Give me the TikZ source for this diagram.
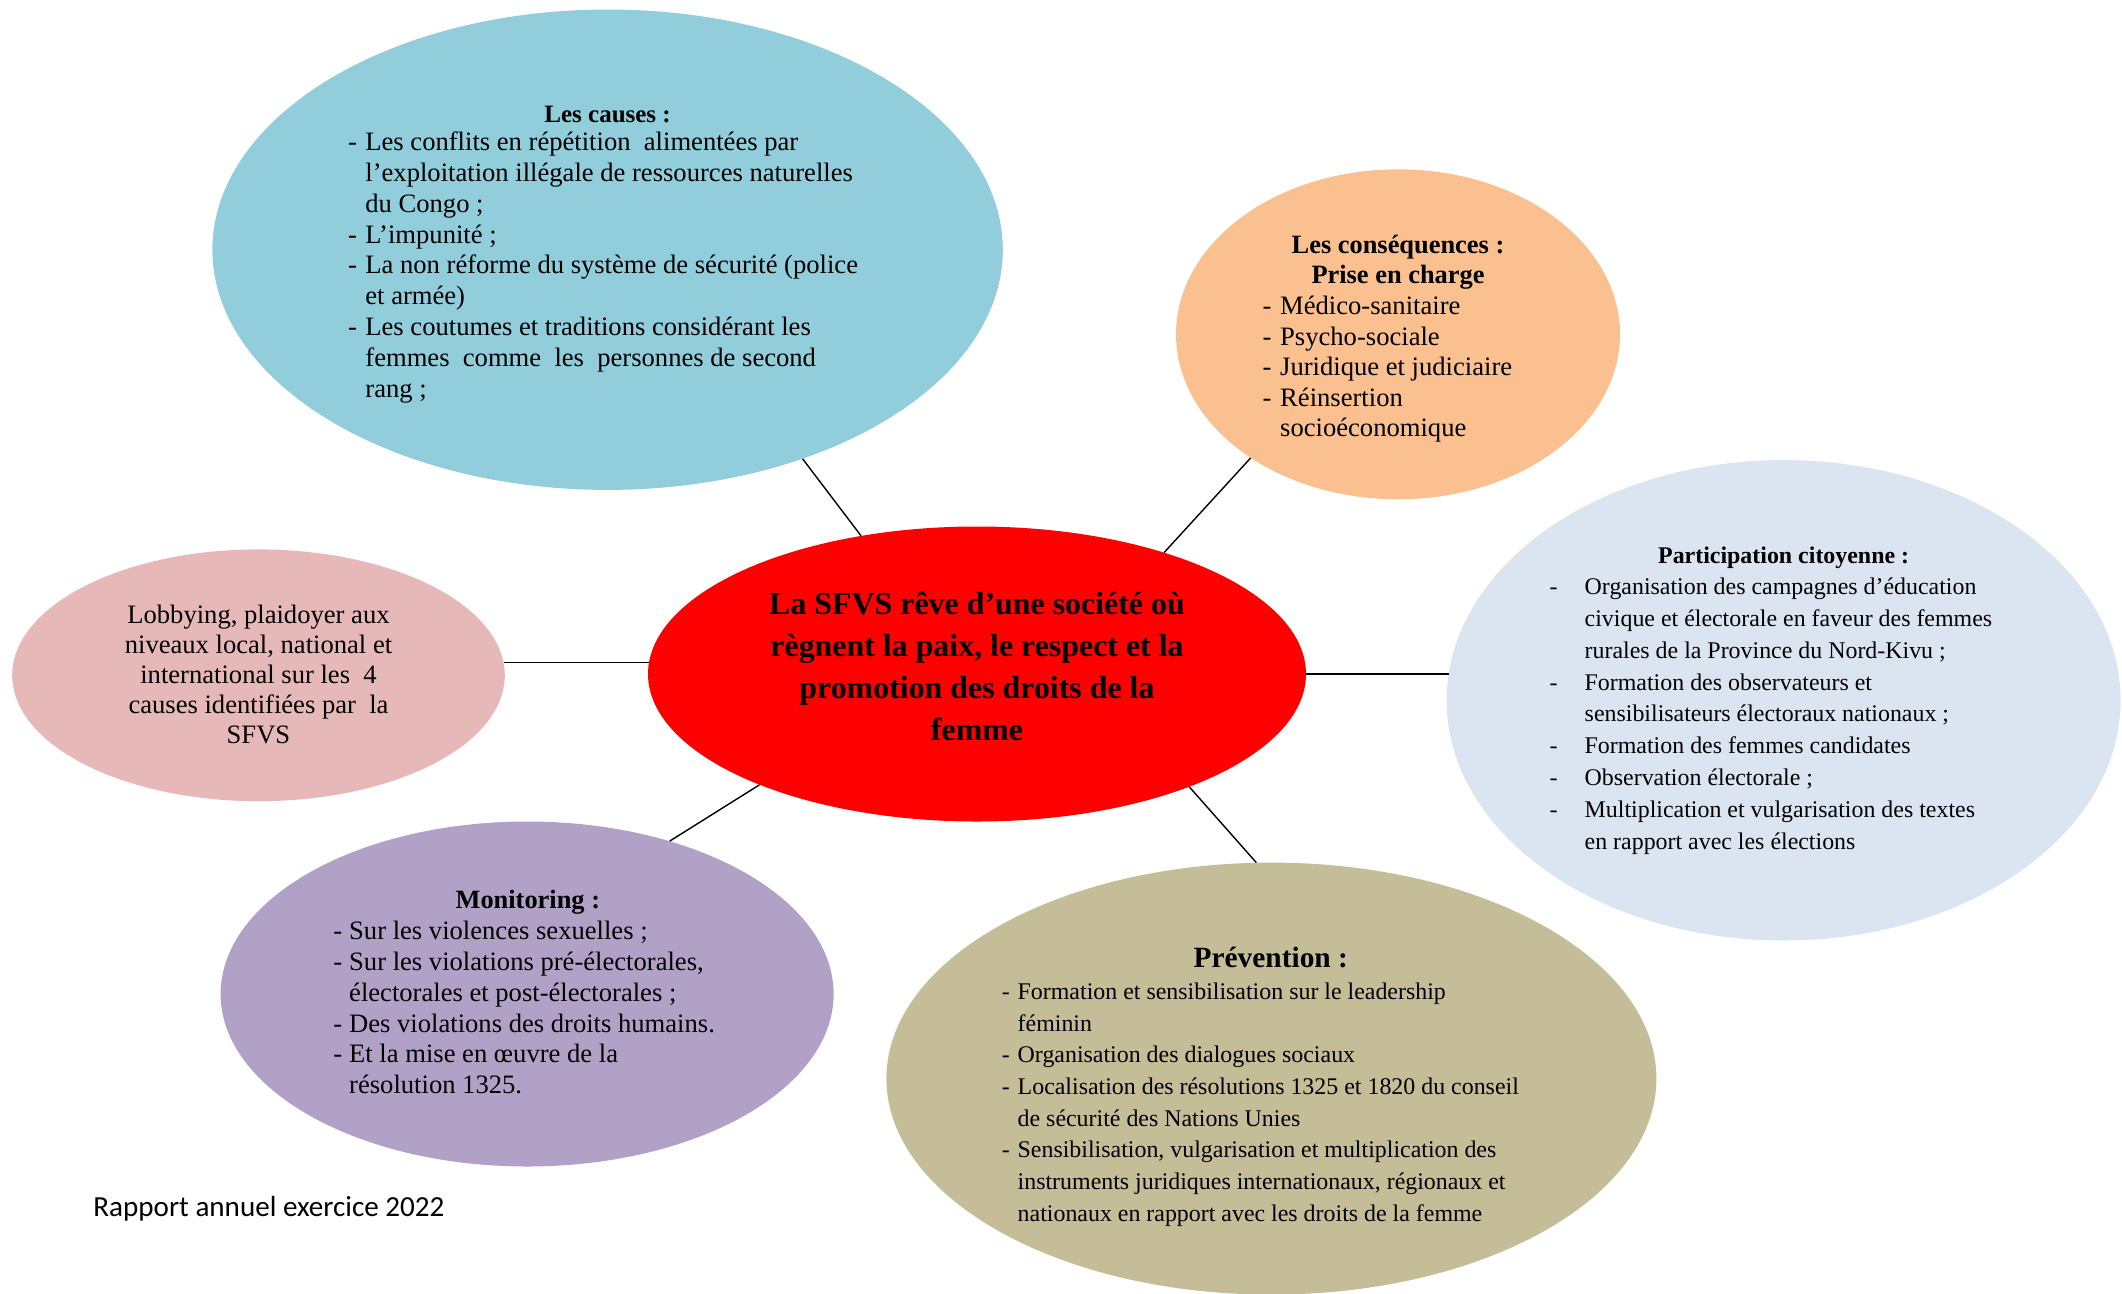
\documentclass[tikz,border=0pt]{standalone}
\usepackage{fontspec}
\setmainfont{Liberation Serif}
\newfontfamily\calibfont{Carlito}
\usepackage{array}
\usetikzlibrary{shapes.geometric}
\definecolor{cCauses}{HTML}{92CDDC}
\definecolor{cConseq}{HTML}{FAC090}
\definecolor{cPartic}{HTML}{DBE5F1}
\definecolor{cCenter}{HTML}{FF0000}
\definecolor{cLobby}{HTML}{E6B9B8}
\definecolor{cMonit}{HTML}{B2A1C7}
\definecolor{cPrev}{HTML}{C4BD97}
\newcommand{\dlist}[2]{\begin{tabular}[t]{@{}p{#1}@{}l@{}}#2\end{tabular}}
\newcommand{\clines}[1]{\begin{tabular}[t]{@{}c@{}}#1\end{tabular}}
\tikzset{
  bubble/.style={ellipse, inner sep=0pt, draw=none},
  link/.style={line width=1.4pt, black},
  txt/.style={inner sep=0pt, outer sep=0pt},
  bodyA/.style={txt, anchor=base west, font=\fontsize{26.6}{30.8}\selectfont},
  bodyB/.style={txt, anchor=base west, font=\fontsize{23.9}{31.8}\selectfont},
  ttl/.style={txt, anchor=base, font=\bfseries\fontsize{26.4}{30}\selectfont},
}
\begin{document}
\begin{tikzpicture}[x=1pt,y=-1pt]
\useasboundingbox (0,0) rectangle (2122,1293);
% bubbles
\node[bubble, fill=cCauses, minimum width=790.4pt, minimum height=480.4pt] (causes) at (607.6,249.7) {};
\node[bubble, fill=cConseq, minimum width=444pt, minimum height=330pt] (conseq) at (1398,334.3) {};
\node[bubble, fill=cPartic, minimum width=674pt, minimum height=480.4pt] (partic) at (1783.6,700.3) {};
\node[bubble, fill=cCenter, minimum width=658pt, minimum height=295pt] (center) at (977,674) {};
\node[bubble, fill=cLobby, minimum width=492.6pt, minimum height=251.8pt] (lobby) at (258.5,675.3) {};
\node[bubble, fill=cMonit, minimum width=613pt, minimum height=345pt] (monit) at (527.1,994) {};
\node[bubble, fill=cPrev, minimum width=770pt, minimum height=432pt] (prev) at (1271.4,1078.6) {};
% connectors
\coordinate (cLeft) at (center.178.8);
\coordinate (cRight) at (center.east);
\draw[link] (causes.-47) -- (center.130);
\draw[link] (conseq.220.7) -- (center.33.9);
\draw[link] (cRight) -- (partic.175.6 |- cRight);
\draw[link] (lobby.2.5 |- cLeft) -- (cLeft);
\draw[link] (monit.47.6) -- (center.207.6);
\draw[link] (center.-28.1) -- (prev.94.8);
% causes
\node[ttl, font=\bfseries\fontsize{25}{30}\selectfont] (causesT) at (607.6,122.3) {Les causes :};
\node[bodyA] (causesL) at (348,150.7) {\dlist{17.4pt}{%
-&Les conflits en répétition~ alimentées par\\
&l’exploitation illégale de ressources naturelles\\
&du Congo ;\\
-&L’impunité ;\\
-&La non réforme du système de sécurité (police\\
&et armée)\\
-&Les coutumes et traditions considérant les\\
&femmes~ comme~ les~ personnes de second\\
&rang ;}};
% consequences
\node[ttl] (conseqT) at (1398,253.6) {Les conséquences :};
\node[ttl] (conseqT2) at (1398,283.4) {Prise en charge};
\node[bodyA, font=\fontsize{26.6}{30.5}\selectfont] (conseqL) at (1262.6,314.5) {\dlist{17.6pt}{%
-&Médico-sanitaire\\
-&Psycho-sociale\\
-&Juridique et judiciaire\\
-&Réinsertion\\
&socioéconomique}};
% participation
\node[ttl, font=\bfseries\fontsize{23.9}{30}\selectfont] (particT) at (1783.6,563.5) {Participation citoyenne :};
\node[bodyB] (particL) at (1549.5,594.6) {\dlist{35.2pt}{%
-&Organisation des campagnes d’éducation\\
&civique et électorale en faveur des femmes\\
&rurales de la Province du Nord-Kivu ;\\
-&Formation des observateurs et\\
&sensibilisateurs électoraux nationaux ;\\
-&Formation des femmes candidates\\
-&Observation électorale ;\\
-&Multiplication et vulgarisation des textes\\
&en rapport avec les élections}};
% center
\node[txt, anchor=base, font=\bfseries\fontsize{31.9}{42}\selectfont] (centerT) at (977,614.2) {\clines{%
La SFVS rêve d’une société où\\
règnent la paix, le respect et la\\
promotion des droits de la\\
femme}};
% lobbying
\node[txt, anchor=base, font=\fontsize{26.6}{30.1}\selectfont] (lobbyT) at (258.5,623) {\clines{%
Lobbying, plaidoyer aux\\
niveaux local, national et\\
international sur les~ 4\\
causes identifiées par~ la\\
SFVS}};
% monitoring
\node[ttl] (monitT) at (527.8,908.6) {Monitoring :};
\node[bodyA] (monitL) at (333.3,939.7) {\dlist{15.9pt}{%
-&Sur les violences sexuelles ;\\
-&Sur les violations pré-électorales,\\
&électorales et post-électorales ;\\
-&Des violations des droits humains.\\
-&Et la mise en œuvre de la\\
&résolution 1325.}};
% prevention
\node[ttl, font=\bfseries\fontsize{29.4}{32}\selectfont] (prevT) at (1270.8,967) {Prévention :};
\node[bodyB, font=\fontsize{23.9}{31.7}\selectfont] (prevL) at (1001.8,999.3) {\dlist{15.9pt}{%
-&Formation et sensibilisation sur le leadership\\
&féminin\\
-&Organisation des dialogues sociaux\\
-&Localisation des résolutions 1325 et 1820 du conseil\\
&de sécurité des Nations Unies\\
-&Sensibilisation, vulgarisation et multiplication des\\
&instruments juridiques internationaux, régionaux et\\
&nationaux en rapport avec les droits de la femme}};
% footer
\node[txt, anchor=base west, font=\calibfont\fontsize{29.1}{34}\selectfont] (footer) at (93.4,1216) {Rapport annuel exercice 2022};
\end{tikzpicture}
\end{document}
